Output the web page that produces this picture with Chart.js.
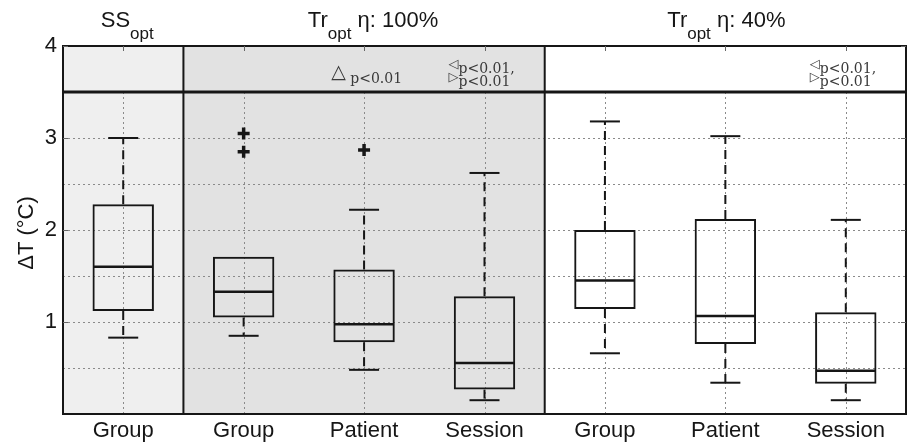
<!DOCTYPE html>
<html><head><meta charset="utf-8">
<script src="https://cdn.jsdelivr.net/npm/chart.js@4.4.0/dist/chart.umd.min.js"></script>
<style>html,body{margin:0;padding:0;background:#fff;}#wrap{width:907px;height:447px;}</style>
</head><body><div id="wrap"><canvas id="c" width="907" height="447"></canvas></div>
<script>
// ---- data ----
const categories = ['Group', 'Group', 'Patient', 'Session', 'Group', 'Patient', 'Session'];
const whiskerLow  = [0.83, 0.85, 0.48, 0.15, 0.66, 0.34, 0.15];
const q1          = [1.12, 1.05, 0.78, 0.265, 1.14, 0.76, 0.33];
const medians     = [1.60, 1.33, 0.975, 0.555, 1.45, 1.065, 0.47];
const q3          = [2.28, 1.71, 1.57, 1.28, 2.00, 2.12, 1.105];
const whiskerHigh = [3.00, 1.71, 2.22, 2.62, 3.18, 3.02, 2.11];
const outlierIndex = [1, 1, 2];
const outlierValue = [3.05, 2.85, 2.87];
const yTickLabels = [1, 2, 3, 4];
const panelMain = ['SS', 'Tr', 'Tr'];
const panelSub  = ['opt', 'opt', 'opt'];
const panelRest = ['', ' η: 100%', ' η: 40%'];
const panelFirst = [0, 1, 4];
const panelLast  = [0, 3, 6];
const headerLevel = 3.5;
const sigText = 'p<0.01';

const INK = '#161616';
const panelFill = ['#efefef', '#e2e2e2', '#ffffff'];
const headerShift = [4, 9, 1];

function drawParts(ctx, parts, cx, baseline) {
  const w = parts.map(p => { ctx.font = p.font; return ctx.measureText(p.t).width; });
  let x = cx - w.reduce((a, b) => a + b, 0) / 2;
  parts.forEach((p, i) => { ctx.font = p.font; ctx.fillText(p.t, x, baseline + (p.dy || 0)); x += w[i]; });
}
function drawPartsLeft(ctx, parts, x, baseline) {
  parts.forEach(p => { ctx.font = p.font; ctx.fillText(p.t, x, baseline + (p.dy || 0)); x += ctx.measureText(p.t).width; });
}

const deco = {
  id: 'deco',
  beforeDraw(chart) {
    const {ctx, chartArea: a, scales: {x}} = chart;
    const half = (x.getPixelForValue(1) - x.getPixelForValue(0)) / 2;
    ctx.save();
    panelFirst.forEach((f, i) => {
      const l = i === 0 ? a.left : x.getPixelForValue(f) - half;
      const r = i === panelFirst.length - 1 ? a.right : x.getPixelForValue(panelLast[i]) + half;
      ctx.fillStyle = panelFill[i];
      ctx.fillRect(l, a.top, r - l, a.bottom - a.top);
    });
    ctx.restore();
  },
  beforeDatasetsDraw(chart) {
    const {ctx, chartArea: a, scales: {x, y}} = chart;
    ctx.save();
    ctx.strokeStyle = '#8a8a8a'; ctx.lineWidth = 1; ctx.setLineDash([2, 3]);
    categories.forEach((c, i) => {
      const px = Math.round(x.getPixelForValue(i)) + 0.5;
      ctx.beginPath(); ctx.moveTo(px, a.bottom); ctx.lineTo(px, y.getPixelForValue(headerLevel)); ctx.stroke();
    });
    ctx.strokeStyle = INK; ctx.lineWidth = 2;
    categories.forEach((c, i) => {
      const px = x.getPixelForValue(i);
      ctx.setLineDash([9, 6]);
      if (whiskerHigh[i] > q3[i]) {
        ctx.beginPath(); ctx.moveTo(px, y.getPixelForValue(q3[i])); ctx.lineTo(px, y.getPixelForValue(whiskerHigh[i])); ctx.stroke();
      }
      if (whiskerLow[i] < q1[i]) {
        ctx.beginPath(); ctx.moveTo(px, y.getPixelForValue(q1[i])); ctx.lineTo(px, y.getPixelForValue(whiskerLow[i])); ctx.stroke();
      }
      ctx.setLineDash([]);
      if (whiskerHigh[i] > q3[i]) {
        const py = y.getPixelForValue(whiskerHigh[i]);
        ctx.beginPath(); ctx.moveTo(px - 15, py); ctx.lineTo(px + 15, py); ctx.stroke();
      }
      if (whiskerLow[i] < q1[i]) {
        const py = y.getPixelForValue(whiskerLow[i]);
        ctx.beginPath(); ctx.moveTo(px - 15, py); ctx.lineTo(px + 15, py); ctx.stroke();
      }
    });
    ctx.restore();
  },
  afterDatasetsDraw(chart) {
    const {ctx, chartArea: a, scales: {x, y}} = chart;
    const half = (x.getPixelForValue(1) - x.getPixelForValue(0)) / 2;
    const bw = half * 2 * 0.51;
    ctx.save();
    ctx.strokeStyle = INK; ctx.lineWidth = 2.5;
    categories.forEach((c, i) => {
      const px = x.getPixelForValue(i), py = y.getPixelForValue(medians[i]);
      ctx.beginPath(); ctx.moveTo(px - bw / 2 + 1, py); ctx.lineTo(px + bw / 2 - 1, py); ctx.stroke();
    });
    const hy = y.getPixelForValue(headerLevel);
    ctx.lineWidth = 3;
    ctx.beginPath(); ctx.moveTo(a.left, hy); ctx.lineTo(a.right, hy); ctx.stroke();
    ctx.lineWidth = 2;
    panelFirst.slice(1).forEach(f => {
      const px = x.getPixelForValue(f) - half;
      ctx.beginPath(); ctx.moveTo(px, a.top); ctx.lineTo(px, a.bottom); ctx.stroke();
    });
    ctx.strokeRect(a.left, a.top, a.right - a.left, a.bottom - a.top);
    ctx.lineWidth = 1; ctx.strokeStyle = '#666';
    categories.forEach((c, i) => {
      const px = Math.round(x.getPixelForValue(i)) + 0.5;
      ctx.beginPath(); ctx.moveTo(px, a.top); ctx.lineTo(px, a.top + 5); ctx.stroke();
    });
    yTickLabels.forEach(v => {
      const py = Math.round(y.getPixelForValue(v)) + 0.5;
      ctx.beginPath(); ctx.moveTo(a.left, py); ctx.lineTo(a.left + 5, py); ctx.stroke();
      ctx.beginPath(); ctx.moveTo(a.right - 5, py); ctx.lineTo(a.right, py); ctx.stroke();
    });
    ctx.fillStyle = INK; ctx.textBaseline = 'alphabetic';
    panelFirst.forEach((f, i) => {
      const l = i === 0 ? a.left : x.getPixelForValue(f) - half;
      const r = i === panelFirst.length - 1 ? a.right : x.getPixelForValue(panelLast[i]) + half;
      drawParts(ctx, [
        {t: panelMain[i], font: '22px "Liberation Sans", Arial, sans-serif'},
        {t: panelSub[i], font: '17px "Liberation Sans", Arial, sans-serif', dy: 12},
        {t: panelRest[i], font: '22px "Liberation Sans", Arial, sans-serif'}
      ], (l + r) / 2 + headerShift[i], 27);
    });
    ctx.fillStyle = '#3a3a3a';
    const serif = '14px "DejaVu Serif", serif';
    let ax = x.getPixelForValue(1) + 0.71 * half * 2 + 2;
    drawPartsLeft(ctx, [
      {t: '△', font: '19px "DejaVu Sans", sans-serif'},
      {t: ' ' + sigText, font: serif, dy: 5}
    ], ax, 78);
    [3, 6].forEach(ci => {
      const sx = x.getPixelForValue(ci) - 36;
      drawPartsLeft(ctx, [
        {t: '◁', font: '13px "DejaVu Sans", sans-serif', dy: -5},
        {t: sigText + ',', font: serif}
      ], sx, 73);
      drawPartsLeft(ctx, [
        {t: '▷', font: '13px "DejaVu Sans", sans-serif', dy: -5},
        {t: sigText, font: serif}
      ], sx, 86);
    });
    ctx.fillStyle = INK;
    ctx.translate(27, (a.top + a.bottom) / 2 + 3);
    ctx.rotate(-Math.PI / 2);
    ctx.textAlign = 'center'; ctx.textBaseline = 'middle';
    ctx.font = '22px "Liberation Sans", Arial, sans-serif';
    ctx.fillText('ΔT (°C)', 0, 0);
    ctx.restore();
  }
};

const outlierSets = outlierIndex.map((ci, k) => ({
  type: 'line',
  data: categories.map((c, i) => i === ci ? outlierValue[k] : null),
  showLine: false,
  pointStyle: 'cross',
  pointRadius: 6,
  pointBorderWidth: 3.5,
  borderColor: INK,
  backgroundColor: INK
}));

new Chart(document.getElementById('c'), {
  type: 'bar',
  data: {
    labels: categories,
    datasets: [
      {
        type: 'bar',
        data: q1.map((v, i) => [v, q3[i]]),
        backgroundColor: 'rgba(0,0,0,0)',
        borderColor: INK,
        borderWidth: 2,
        borderSkipped: false,
        barPercentage: 0.51,
        categoryPercentage: 1,
        grouped: false
      },
      ...outlierSets
    ]
  },
  options: {
    responsive: false,
    animation: false,
    layout: {autoPadding: false, padding: {top: 46, right: 1, left: 0, bottom: 0}},
    plugins: {legend: {display: false}, tooltip: {enabled: false}},
    scales: {
      x: {
        grid: {display: false, drawTicks: false},
        border: {display: false},
        ticks: {color: INK, font: {family: '"Liberation Sans", Arial, sans-serif', size: 22}, padding: 4, maxRotation: 0, autoSkip: false},
        afterFit: s => { s.height = 33; s.paddingLeft = 0; s.paddingRight = 0; }
      },
      y: {
        min: 0, max: 4,
        grid: {
          drawTicks: false,
          color: c => (c.tick && c.tick.value > 0 && c.tick.value < 3.5) ? '#8a8a8a' : 'rgba(0,0,0,0)',
          lineWidth: 1
        },
        border: {display: false, dash: [2, 3]},
        ticks: {
          stepSize: 0.5, autoSkip: false, padding: 6, color: INK,
          font: {family: '"Liberation Sans", Arial, sans-serif', size: 22},
          callback: v => yTickLabels.includes(v) ? String(v) : ''
        },
        afterFit: s => { s.width = 63; s.paddingTop = 0; s.paddingBottom = 0; }
      }
    }
  },
  plugins: [deco]
});
</script>
</body></html>
